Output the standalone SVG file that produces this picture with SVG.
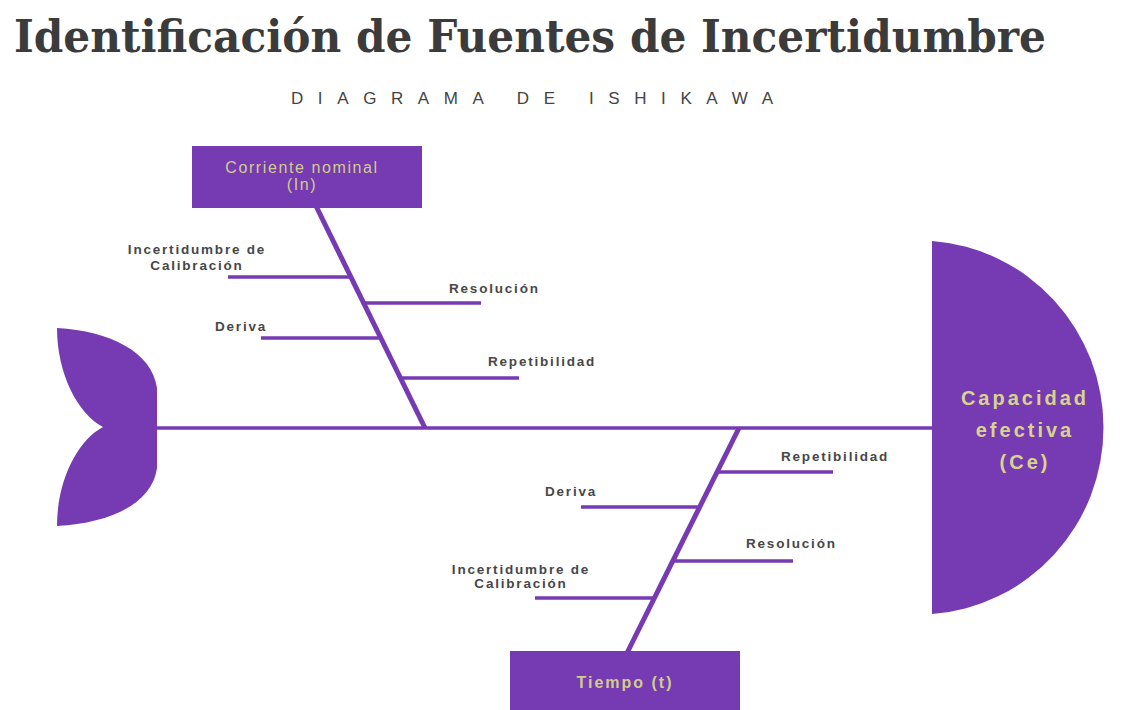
<svg xmlns="http://www.w3.org/2000/svg" width="1122" height="710" viewBox="0 0 1122 710">
<style>
.title{font-family:"DejaVu Serif","Liberation Serif",serif;font-weight:bold;font-size:44px;fill:#3b3b3b}
.sub{font-family:"Liberation Sans",Arial,sans-serif;font-size:17px;fill:#444}
.box{fill:#763ab2}
.btxt{font-family:"Liberation Sans",Arial,sans-serif;font-size:16px;fill:#d2cd8c;letter-spacing:1.6px;text-anchor:middle}
.htxt{font-family:"Liberation Sans",Arial,sans-serif;font-weight:bold;font-size:20px;fill:#d8d48c;letter-spacing:3px;text-anchor:middle}
.lbl{font-family:"Liberation Sans",Arial,sans-serif;font-weight:bold;font-size:13.5px;fill:#474747;letter-spacing:1.8px}
.mid{text-anchor:middle}
.bone{stroke:#763ab2;stroke-width:5;fill:none}
.rib{stroke:#763ab2;stroke-width:3.5;fill:none}
</style>
<rect width="1122" height="710" fill="#ffffff"/>
<text class="title" x="14" y="52" textLength="1032" lengthAdjust="spacingAndGlyphs">Identificación de Fuentes de Incertidumbre</text>
<text class="sub" x="291" y="104" textLength="482" lengthAdjust="spacing">DIAGRAMA DE ISHIKAWA</text>

<g id="connectors">
<line class="rib" x1="155" y1="428" x2="934" y2="428"/>
<line class="bone" x1="316" y1="206" x2="425" y2="428"/>
<line class="bone" x1="739" y1="428" x2="627" y2="653"/>
<line class="rib" x1="228" y1="277" x2="350" y2="277"/>
<line class="rib" x1="362" y1="303" x2="481" y2="303"/>
<line class="rib" x1="261" y1="338" x2="379" y2="338"/>
<line class="rib" x1="400" y1="378" x2="519" y2="378"/>
<line class="rib" x1="717" y1="472" x2="833" y2="472"/>
<line class="rib" x1="581" y1="507" x2="700" y2="507"/>
<line class="rib" x1="673" y1="561" x2="793" y2="561"/>
<line class="rib" x1="535" y1="598" x2="654" y2="598"/>
</g>

<g id="tail">
<path class="box" d="M57,328 C110,331 152,352 157,388 L157,468 C152,504 110,523 57,526 C57,480 78,440 103,427 C78,414 57,374 57,328 Z"/>
</g>

<g id="head">
<path class="box" d="M932,241 A185,187 0 0 1 932,614 Z"/>
<text class="htxt" x="1025" y="405">Capacidad</text>
<text class="htxt" x="1025" y="437">efectiva</text>
<text class="htxt" x="1025" y="469">(Ce)</text>
</g>

<g id="corriente">
<rect class="box" x="192" y="146" width="230" height="62"/>
<text class="btxt" x="302" y="173">Corriente nominal</text>
<text class="btxt" x="302" y="190">(In)</text>
</g>

<g id="tiempo">
<rect class="box" x="510" y="651" width="230" height="60"/>
<text class="btxt" x="625" y="688" style="font-weight:bold;letter-spacing:2px">Tiempo (t)</text>
</g>

<g id="top-incertidumbre">
<text class="lbl mid" x="197" y="254">Incertidumbre de</text>
<text class="lbl mid" x="197" y="270">Calibración</text>
</g>
<g id="top-resolucion"><text class="lbl" x="449" y="293">Resolución</text></g>
<g id="top-deriva"><text class="lbl" x="215" y="331">Deriva</text></g>
<g id="top-repetibilidad"><text class="lbl" x="488" y="366">Repetibilidad</text></g>

<g id="bot-repetibilidad"><text class="lbl" x="781" y="461">Repetibilidad</text></g>
<g id="bot-deriva"><text class="lbl" x="545" y="496">Deriva</text></g>
<g id="bot-resolucion"><text class="lbl" x="746" y="548">Resolución</text></g>
<g id="bot-incertidumbre">
<text class="lbl mid" x="521" y="574">Incertidumbre de</text>
<text class="lbl mid" x="521" y="588">Calibración</text>
</g>
</svg>
